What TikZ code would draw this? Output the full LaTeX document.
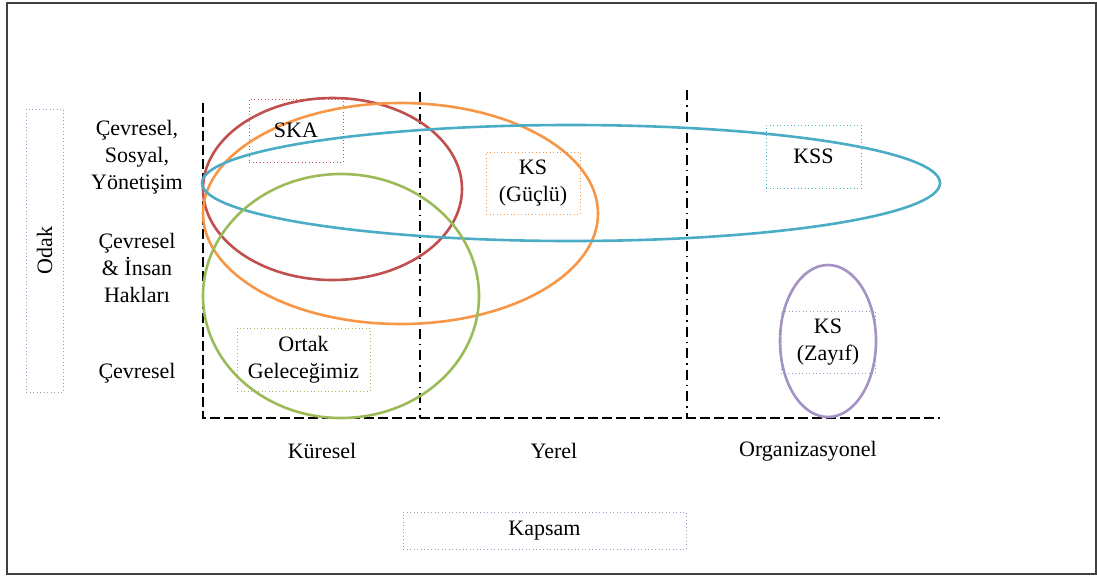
\documentclass[tikz,border=0pt]{standalone}
\usepackage{fontspec}
\setmainfont{Liberation Serif}
\begin{document}
\definecolor{cred}{RGB}{192,80,77}
\definecolor{corange}{RGB}{247,150,70}
\definecolor{cblue}{RGB}{75,172,198}
\definecolor{cgreen}{RGB}{155,187,89}
\definecolor{cpurple}{RGB}{164,146,196}
\begin{tikzpicture}[x=1pt,y=-1pt,
  lbl/.style={font=\fontsize{22}{27}\selectfont, align=center, inner sep=0pt},
  tagbox/.style={draw, line width=1pt, dash pattern=on 1pt off 2.5pt, inner sep=0pt},
  ring/.style={line width=2.6pt},
  axisline/.style={line width=1.2pt, dash pattern=on 10pt off 4pt},
  divline/.style={line width=1.2pt, dash pattern=on 10pt off 5pt on 1.5pt off 5pt}]
\useasboundingbox (0,0) rectangle (1097,576);
% outer frame
\draw[line width=1.6pt, black!75] (7,3) rectangle (1096,574);

% vertical axis title
\node[tagbox, draw=cpurple, minimum width=37pt, minimum height=283pt] (odakbox) at (44.5,250.5) {};
\node[lbl, rotate=90] (odak) at (odakbox.center) {Odak};

% focus labels
\node[lbl] (f1) at (137,157) {Çevresel,\\Sosyal,\\Yönetişim};
\node[lbl] (f2) at (137,268) {Çevresel\\\& İnsan\\Hakları};
\node[lbl] (f3) at (137,373) {Çevresel};

% tag boxes
\node[tagbox, draw=cred, minimum width=94pt, minimum height=63pt] (skabox) at (296,130.5) {};
\node[tagbox, draw=corange, minimum width=94pt, minimum height=62pt] (ksgbox) at (533,183) {};
\node[tagbox, draw=cblue, minimum width=95pt, minimum height=63pt] (kssbox) at (813.5,156.5) {};
\node[tagbox, draw=cgreen, minimum width=133pt, minimum height=63pt] (ortbox) at (303.5,359.5) {};
\node[tagbox, draw=cpurple, minimum width=94pt, minimum height=62pt] (kszbox) at (828,342) {};
\node[tagbox, draw=cpurple, minimum width=283pt, minimum height=37pt] (kapbox) at (544.5,530.5) {};

% axes
\coordinate (origin) at (203,418);
\coordinate (ytop) at (203,103);
\coordinate (xend) at (940,418);
\draw[axisline] (ytop) -- (origin) -- (xend);
\coordinate (d1t) at (420,92);
\coordinate (d1b) at (420,418);
\coordinate (d2t) at (687,90);
\coordinate (d2b) at (687,418);
\draw[divline] (d1t) -- (d1b);
\draw[divline] (d2t) -- (d2b);

% scope ellipses
\draw[ring, cred] (332.5,189) ellipse [x radius=129.5, y radius=91];
\draw[ring, corange] (400.5,213.5) ellipse [x radius=197.5, y radius=110.5];
\draw[ring, cblue] (571,183) ellipse [x radius=369, y radius=58];
\draw[ring, cgreen] (341,296) ellipse [x radius=138, y radius=122];
\draw[ring, cpurple] (828,341) ellipse [x radius=48, y radius=76];

% texts
\node[lbl] (ska) at (skabox.center) {SKA};
\node[lbl] (ksg) at (ksgbox.center) {KS\\(Güçlü)};
\node[lbl] (kss) at (kssbox.center) {KSS};
\node[lbl] (ort) at (ortbox.center) {Ortak\\Geleceğimiz};
\node[lbl] (ksz) at (kszbox.center) {KS\\(Zayıf)};
\node[lbl] (kap) at (kapbox.center) {Kapsam};

% scope labels
\node[lbl] (kur) at (322,451) {Küresel};
\node[lbl] (yer) at (554,451) {Yerel};
\node[lbl] (org) at (808,451) {Organizasyonel};
\end{tikzpicture}
\end{document}
